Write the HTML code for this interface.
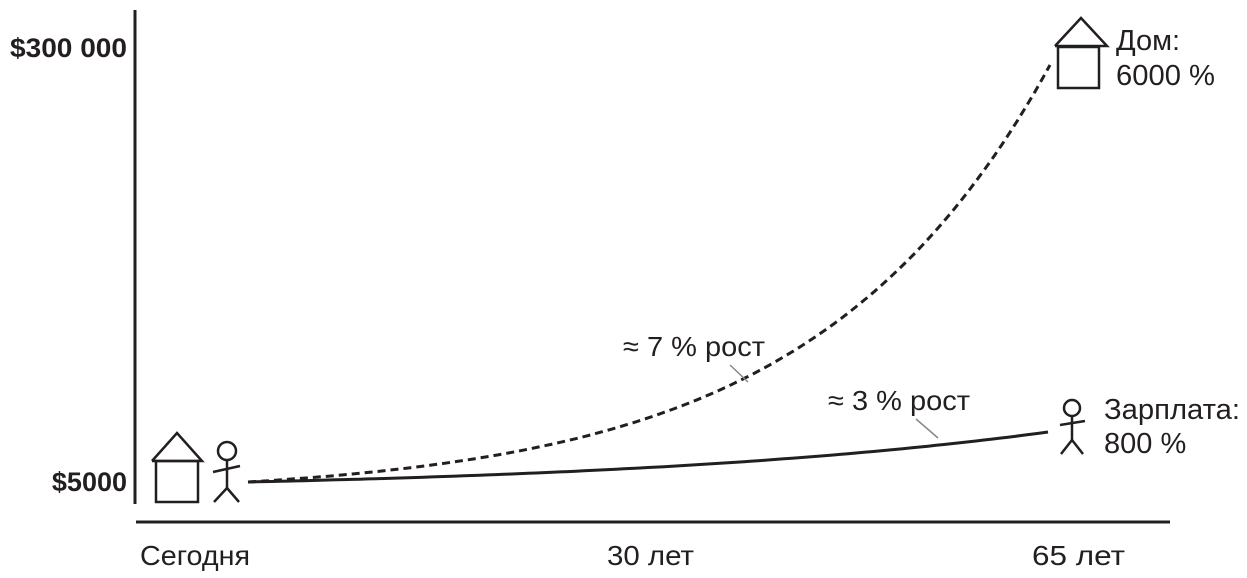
<!DOCTYPE html>
<html><head><meta charset="utf-8"><style>
html,body{margin:0;padding:0;background:#fff;width:1247px;height:578px;overflow:hidden}
text{font-family:"Liberation Sans",Arial,sans-serif;fill:#231f20}
</style></head><body>
<svg id="s" width="1247" height="578" viewBox="0 0 1247 578" xmlns="http://www.w3.org/2000/svg">
<g stroke="#231f20" fill="none" stroke-width="3">
<line x1="135" y1="10" x2="135" y2="504"/>
<line x1="136" y1="522" x2="1170" y2="522"/>
</g>
<g stroke="#231f20" fill="none" stroke-width="2.5">
<polyline points="152,461 177,433 202,461 152,461"/>
<rect x="156" y="461" width="42" height="41"/>
<circle cx="227" cy="451" r="9"/>
<line x1="227" y1="460" x2="227" y2="488"/>
<line x1="213" y1="472" x2="240" y2="466"/>
<line x1="227" y1="488" x2="214" y2="502"/>
<line x1="227" y1="488" x2="239" y2="502"/>
<polyline points="1055,46 1081,18 1107,46 1055,46"/>
<rect x="1058" y="47" width="41" height="41"/>
<circle cx="1072" cy="408" r="8"/>
<line x1="1072" y1="416" x2="1072" y2="440"/>
<line x1="1060" y1="425" x2="1085" y2="421"/>
<line x1="1072" y1="440" x2="1061" y2="454"/>
<line x1="1072" y1="440" x2="1083" y2="454"/>
</g>
<polyline id="dash" fill="none" stroke="#231f20" stroke-width="3" stroke-dasharray="8,5"/>
<polyline id="sol" fill="none" stroke="#231f20" stroke-width="3"/>
<g stroke="#888" stroke-width="1.5">
<line x1="730" y1="365" x2="748" y2="382"/>
<line x1="916" y1="419" x2="938" y2="438"/>
</g>
<text x="127" y="57" font-size="27" font-weight="bold" text-anchor="end" textLength="117" lengthAdjust="spacingAndGlyphs">$300 000</text>
<text x="127" y="491" font-size="27" font-weight="bold" text-anchor="end">$5000</text>
<text x="140" y="565" font-size="28" textLength="110" lengthAdjust="spacingAndGlyphs">Сегодня</text>
<text x="607" y="565" font-size="28" textLength="87" lengthAdjust="spacingAndGlyphs">30 лет</text>
<text x="1032" y="565" font-size="28" textLength="93" lengthAdjust="spacingAndGlyphs">65 лет</text>
<text x="1116" y="50" font-size="29">Дом:</text>
<text x="1116" y="85" font-size="29" textLength="99" lengthAdjust="spacingAndGlyphs">6000 %</text>
<text x="1104" y="419" font-size="29" textLength="136" lengthAdjust="spacingAndGlyphs">Зарплата:</text>
<text x="1104" y="453" font-size="29">800 %</text>
<text x="623" y="356" font-size="28" textLength="142" lengthAdjust="spacingAndGlyphs">≈ 7 % рост</text>
<text x="828" y="410" font-size="28" textLength="142" lengthAdjust="spacingAndGlyphs">≈ 3 % рост</text>
</svg>
<script>
function pts(x0,x1,y0,y1,k){var a=[];for(var i=0;i<=100;i++){var t=i/100;var f=(Math.exp(k*t)-1)/(Math.exp(k)-1);a.push((x0+(x1-x0)*t).toFixed(1)+","+(y0+(y1-y0)*f).toFixed(1));}return a.join(" ");}
document.getElementById("dash").setAttribute("points",pts(248,1050,482,65,3.4));
document.getElementById("sol").setAttribute("points",pts(248,1048,482,432,1.8));
</script>
</body></html>
